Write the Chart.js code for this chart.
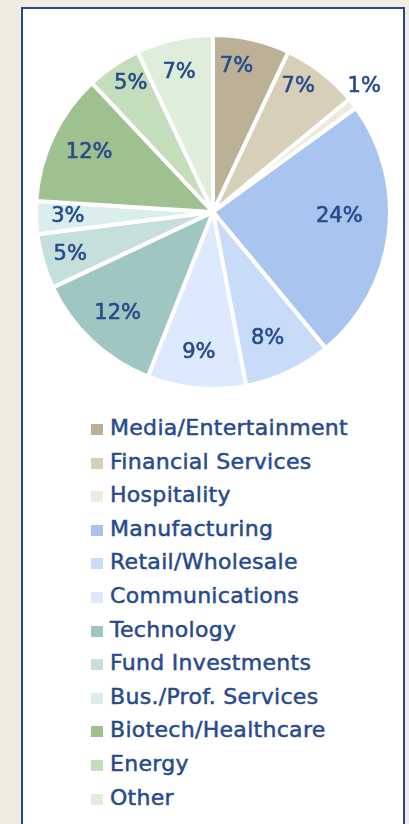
<!DOCTYPE html>
<html>
<head>
<meta charset="utf-8">
<script src="https://cdn.jsdelivr.net/npm/chart.js@4/dist/chart.umd.min.js"></script>
<style>
  html, body { margin: 0; padding: 0; }
  body { width: 409px; height: 824px; background: #f0ece2; position: relative; overflow: hidden; font-family: "DejaVu Sans", sans-serif; }
  #panel { position: absolute; left: 21px; top: 7px; width: 380px; height: 900px; background: #ffffff; border: 2px solid #234a8e; border-bottom: none; }
  #pieBox { position: absolute; left: 33px; top: 32px; width: 360px; height: 360px; }
  #legend { position: absolute; left: 91px; top: 411px; margin: 0; padding: 0; list-style: none; }
  #legend li { font-size: 22px; line-height: 33.6px; height: 33.6px; color: #274a8c; white-space: nowrap; letter-spacing: 0.3px; -webkit-text-stroke: 0.5px #274a8c; }
  #legend .box { display: inline-block; width: 12px; height: 11px; margin-right: 7px; -webkit-text-stroke: 0; }
</style>
</head>
<body>
<div id="panel"></div>
<div id="pieBox"><canvas id="pie" width="360" height="360"></canvas></div>
<ul id="legend"></ul>
<script>
// Industry breakdown (percent of total)
const industries = [
  'Media/Entertainment', 'Financial Services', 'Hospitality', 'Manufacturing',
  'Retail/Wholesale', 'Communications', 'Technology', 'Fund Investments',
  'Bus./Prof. Services', 'Biotech/Healthcare', 'Energy', 'Other'
];
const shares = [7, 7, 1, 24, 8, 9, 12, 5, 3, 12, 5, 7];
const sliceColors = [
  '#bcb197', '#d8cfb8', '#eeeae0', '#a9c4ee',
  '#c8dbf8', '#dde9fc', '#a0c6c3', '#c4dfdc',
  '#dbeeed', '#9ec18f', '#c4ddbb', '#dfeddb'
];

const TEXT_COLOR = '#274a8c';

// Draws the "NN%" label of each slice, placed along the slice's middle
// direction (with a small angular nudge) at a fraction of the radius
const sliceLabels = {
  id: 'sliceLabels',
  afterDatasetsDraw(chart, args, opts) {
    const { ctx } = chart;
    const meta = chart.getDatasetMeta(0);
    const values = chart.data.datasets[0].data;
    ctx.save();
    ctx.font = opts.font;
    ctx.fillStyle = opts.color;
    ctx.strokeStyle = opts.color;
    ctx.lineWidth = opts.weight;
    ctx.lineJoin = 'round';
    ctx.textAlign = 'center';
    ctx.textBaseline = 'middle';
    meta.data.forEach((arc, i) => {
      const { x, y, startAngle, endAngle, outerRadius } = arc.getProps(['x', 'y', 'startAngle', 'endAngle', 'outerRadius'], true);
      const mid = (startAngle + endAngle) / 2 + (opts.nudge[i] || 0) * Math.PI / 180;
      const r = outerRadius * (opts.radius[i] ?? 0.8);
      const tx = x + Math.cos(mid) * r;
      const ty = y + Math.sin(mid) * r + 1.5;
      const text = values[i] + '%';
      ctx.strokeText(text, tx, ty);
      ctx.fillText(text, tx, ty);
    });
    ctx.restore();
  }
};

const chart = new Chart(document.getElementById('pie'), {
  type: 'pie',
  data: {
    labels: industries,
    datasets: [{
      data: shares,
      backgroundColor: sliceColors,
      borderColor: '#ffffff',
      borderWidth: 4
    }]
  },
  options: {
    responsive: false,
    animation: false,
    radius: 177,
    layout: { padding: 0 },
    plugins: {
      legend: { display: false },
      tooltip: { enabled: false },
      sliceLabels: {
        font: '21px "DejaVu Sans"',
        color: TEXT_COLOR,
        weight: 0.6,
        radius: [0.84, 0.865, 1.117, 0.714, 0.77, 0.79, 0.78, 0.84, 0.82, 0.78, 0.87, 0.82],
        nudge: [-3.5, -4, -2.3, -6, 1.6, 0.4, 0.5, 0, 0.6, 1, 1.9, -0.9]
      }
    }
  },
  plugins: [sliceLabels]
});

// Legend list built from the chart's own legend items
const list = document.getElementById('legend');
Chart.overrides.pie.plugins.legend.labels.generateLabels(chart).forEach(item => {
  const li = document.createElement('li');
  const box = document.createElement('span');
  box.className = 'box';
  box.style.background = item.fillStyle;
  li.appendChild(box);
  li.appendChild(document.createTextNode(item.text));
  list.appendChild(li);
});
</script>
</body>
</html>
